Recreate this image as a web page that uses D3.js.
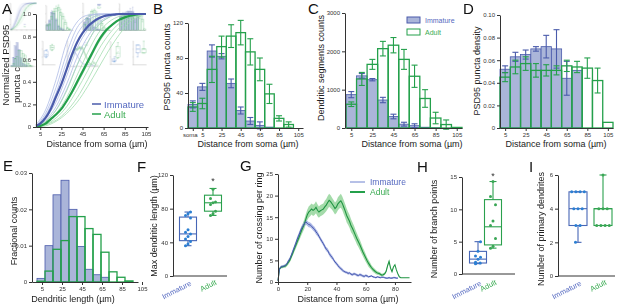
<!DOCTYPE html>
<html><head><meta charset="utf-8">
<script src="https://cdn.jsdelivr.net/npm/d3@7"></script>
<style>
body{margin:0;background:#fff;}
svg{display:block;font-family:"Liberation Sans",Arial,Helvetica,sans-serif;}
.ax .domain,.ax line{stroke:#333;stroke-width:1;}
.ax text{font-size:6px;fill:#333;font-family:"Liberation Sans",Arial,Helvetica,sans-serif;}
</style></head><body>
<svg id="fig" width="617" height="305"></svg>
<script>
// ---------------- DATA ----------------
const groups = ["Immature", "Adult"];
const distTicks = [5, 25, 45, 65, 85, 105];

// A: cumulative normalized PSD95 puncta
const aDist = [1,5,10,15,20,25,30,35,40,45,50,55,60,65,70,75,80,85,90,95,100,105];
const aImmMean = [0.01,0.03,0.08,0.16,0.27,0.38,0.51,0.64,0.75,0.83,0.89,0.93,0.96,0.98,0.99,0.995,1,1,1,1,1,1];
const aAdultMean = [0,0.01,0.03,0.07,0.11,0.16,0.23,0.31,0.40,0.49,0.58,0.67,0.76,0.83,0.88,0.92,0.95,0.97,0.985,0.995,1,1];
const aDistCells = [1,10,20,30,40,50,60,70,80,90,105];
const aImmCells = [
  [0.02,0.15,0.42,0.75,0.93,0.99,1,1,1,1,1],
  [0.01,0.12,0.35,0.65,0.88,0.97,1,1,1,1,1],
  [0.01,0.08,0.22,0.45,0.70,0.86,0.95,0.99,1,1,1],
  [0,0.06,0.18,0.38,0.62,0.80,0.92,0.98,1,1,1],
  [0.01,0.10,0.30,0.58,0.82,0.94,0.99,1,1,1,1],
  [0,0.05,0.15,0.33,0.55,0.75,0.90,0.97,1,1,1]
];
const aAdultCells = [
  [0,0.05,0.15,0.32,0.55,0.75,0.90,0.97,1,1,1],
  [0,0.03,0.12,0.26,0.46,0.66,0.83,0.93,0.98,1,1],
  [0,0.02,0.08,0.18,0.33,0.50,0.68,0.82,0.92,0.98,1],
  [0,0.02,0.06,0.14,0.26,0.42,0.60,0.76,0.88,0.96,1],
  [0,0.04,0.11,0.22,0.38,0.56,0.74,0.87,0.95,0.99,1],
  [0,0.01,0.05,0.12,0.22,0.36,0.52,0.68,0.82,0.93,1]
];
const aYTicks = [0,0.2,0.4,0.6,0.8,1.0];

// B: PSD95 puncta counts
const bBins = [-5,5,15,25,35,45,55,65,75,85,95];
const bTickVals = [-5,5,25,45,65,85,105];
const bTickLabels = ["soma","5","25","45","65","85","105"];
const bImm = [27,47,88,82,51,20,8,3,1,0,0];
const bImmErr = [4,4,7,3,5,4,4,4,0,0,0];
const bAdult = [24,28,67,93,105,109,87,67,39,11,4];
const bAdultErr = [5,6,15,12,13,14,15,13,11,3,3];
const bYTicks = [0,40,80,120];

// C: dendritic segment counts
const cBins = [5,15,25,35,45,55,65,75,85,95,105];
const cImm = [870,1360,1260,730,300,100,60,20,5,0,0];
const cImmErr = [80,60,30,70,60,50,50,0,0,0,0];
const cAdult = [620,1280,1660,2070,2160,1790,1350,770,260,90,15];
const cAdultErr = [60,170,130,190,200,260,290,230,150,120,0];
const cYTicks = [0,1000,2000,3000];

// D: PSD95 puncta density
const dBins = [5,15,25,35,45,55,65,75,85,95,105];
const dImm = [0.052,0.063,0.065,0.070,0.072,0.070,0.044,0.051,0,0,0];
const dImmErr = [0.003,0.004,0.004,0.002,0.010,0.017,0.015,0,0,0,0];
const dAdult = [0.045,0.054,0.057,0.051,0.051,0.051,0.055,0.054,0.053,0.042,0.005];
const dAdultErr = [0.004,0.006,0.006,0.006,0.005,0.004,0.005,0.005,0.009,0.011,0];
const dYTicks = [0,0.02,0.04,0.06,0.08,0.10];

// E: dendritic length distribution
const eEdges = [0,8,16,24,32,40,48,56,64,72,80,88,96];
const eImm = [0.001,0.010,0.024,0.028,0.020,0.0098,0.0035,0.002,0.0013,0,0,0];
const eAdult = [0.0002,0.003,0.009,0.0114,0.018,0.018,0.0147,0.0131,0.0082,0.0028,0.0013,0.0003];
const eYTicks = [0,0.01,0.02,0.03];

// F: max dendritic length  (box = min, q1, median, q3, max)
const fImm = [36,38,41,44,47,50,52,55,69,72,74,76];
const fAdult = [72,74,77,85,87,88,92,103];
const fImmBox = [36,42,50,70,76];
const fAdultBox = [72,77,87,96,104];
const fYTicks = [0,40,80,120];

// G: Sholl crossings per ring (1 µm steps from the soma)
const gStep = 1;
const gImm = [0.3,3.0,3.5,3.6,3.7,3.8,4.2,4.8,5.3,6.1,7.0,7.9,8.8,9.8,10.6,11.5,12.3,12.9,13.5,13.9,
  13.6,13.3,13.2,12.9,12.5,12.2,11.6,11.2,10.6,10.0,9.4,8.9,8.2,7.6,7.3,6.6,6.1,5.7,5.2,4.6,
  4.3,3.8,3.4,3.1,2.8,2.5,2.3,2.2,2.0,2.1,1.8,1.7,1.9,1.8,1.6,1.5,1.7,1.6,1.4,1.3,
  1.5,1.4,1.2,1.3,1.4,1.2,1.1,1.0,1.2,1.1,1.0,1.1,1.1,1.0,0.9,0.9,1.0,0.9,0.9,1.0,1.0,0.9,0.9];
const gImmErr = [0.1,0.3,0.3,0.3,0.3,0.3,0.3,0.4,0.4,0.4,0.5,0.5,0.5,0.6,0.6,0.6,0.6,0.6,0.6,0.6,
  0.6,0.6,0.6,0.6,0.6,0.6,0.6,0.6,0.5,0.5,0.5,0.5,0.5,0.5,0.5,0.5,0.5,0.5,0.4,0.4,
  0.4,0.4,0.4,0.4,0.4,0.3,0.3,0.3,0.3,0.3,0.3,0.3,0.3,0.3,0.3,0.3,0.3,0.3,0.3,0.3,
  0.3,0.3,0.2,0.2,0.2,0.2,0.2,0.2,0.2,0.2,0.2,0.2,0.2,0.2,0.2,0.2,0.2,0.2,0.2,0.2,0.2,0.2,0.2];
const gAdult = [0.3,3.0,3.4,3.5,3.6,3.7,4.0,4.5,5.0,5.8,6.6,7.5,8.3,9.2,10.0,10.9,11.8,12.6,13.4,14.5,
  15.5,16.2,16.5,16.9,16.6,16.8,17.3,16.6,16.2,16.5,16.7,16.9,17.4,17.8,18.4,18.9,18.6,18.1,17.6,17.0,
  17.4,18.1,18.5,18.8,18.2,17.3,16.4,15.4,14.7,14.0,13.0,12.4,11.6,10.8,10.0,9.3,8.6,7.8,7.0,6.3,
  5.6,4.9,4.3,3.8,3.3,2.9,2.6,2.3,2.1,2.0,1.8,1.6,1.7,1.9,2.5,3.8,4.8,3.2,2.4,3.5,
  4.0,2.8,1.9,1.2,1.0,1.0,1.0,1.0,1.0,1.0,1.0];
const gAdultErr = [0.2,0.3,0.3,0.3,0.3,0.4,0.4,0.5,0.5,0.6,0.6,0.7,0.7,0.8,0.8,0.9,1.0,1.0,1.1,1.2,
  1.2,1.3,1.3,1.3,1.3,1.3,1.4,1.4,1.3,1.3,1.3,1.3,1.4,1.4,1.5,1.5,1.5,1.4,1.4,1.4,
  1.4,1.5,1.5,1.6,1.6,1.6,1.6,1.6,1.5,1.5,1.5,1.4,1.4,1.3,1.3,1.2,1.2,1.1,1.0,1.0,
  0.9,0.8,0.8,0.7,0.6,0.6,0.5,0.5,0.4,0.4,0.4,0.3,0.3,0.3,0.3,0.3,0.3,0.2,0.2,0.2,
  0,0,0,0,0,0,0,0,0,0,0];
const gXTicks = [0,20,40,60,80];
const gYTicks = [0,5,10,15,20,25];

// H: branch points
const hImm = [1.6,1.7,1.7,1.8,2.3,2.6,2.8,3.5,5.0];
const hAdult = [4.0,4.3,5.5,7.5,8.2,10.7,12.0,14.3];
const hImmBox = [1.6,1.7,2.3,3.5,5.0];
const hAdultBox = [4.0,4.5,7.3,11.5,14.3];
const hYTicks = [0,5,10,15];

// I: primary dendrites
const iImm = [2,3,3,4,4,4,5,5,5,5];
const iAdult = [3,3,3,3,4,4,4,6];
const iImmBox = [2,3,4,5,5];
const iAdultBox = [3,3,4,4,6];
const iYTicks = [0,2,4,6];

// ---------------- STYLE ----------------
const COL = {
  blue:"#4a5bab", blueFill:"#aab5d9", blueText:"#5569c0", blueLight:"#aebbe6",
  green:"#24a04b", greenText:"#3aab52", greenLight:"#a3ddb0",
  bluePt:"#2b7fd2", greenPt:"#3aa655", boxBlue:"#4766b6", boxGreen:"#2aa04d",
  txt:"#222"
};
const fmtDec = n => d => d === 0 ? "0" : d3.format("." + n + "f")(d);

// ---------------- HELPERS ----------------
function yAx(g, s, ticks, fmt, x) {
  return g.append("g").attr("class","ax").attr("transform",`translate(${x},0)`)
    .call(d3.axisLeft(s).tickValues(ticks).tickFormat(fmt).tickSize(3).tickSizeOuter(0).tickPadding(2));
}
function xAx(g, s, ticks, fmt, y) {
  return g.append("g").attr("class","ax").attr("transform",`translate(0,${y})`)
    .call(d3.axisBottom(s).tickValues(ticks).tickFormat(fmt).tickSize(3).tickSizeOuter(0).tickPadding(1.5));
}
function yTitle(g, t, x, y) {
  g.append("text").attr("transform",`translate(${x},${y}) rotate(-90)`).attr("text-anchor","middle")
    .attr("font-size","9px").attr("fill",COL.txt).text(t);
}
function xTitle(g, t, x, y) {
  g.append("text").attr("x",x).attr("y",y).attr("text-anchor","middle")
    .attr("font-size","9px").attr("fill",COL.txt).text(t);
}
function letter(g, t, x, y) {
  g.append("text").attr("x",x).attr("y",y).attr("font-size","15px").attr("fill","#111").text(t);
}
function bars(g, x, y, lefts, rights, vals, fill, stroke, sw) {
  const d = vals.map((v,i)=>({l:lefts[i], r:rights[i], v})).filter(d=>d.v>0);
  g.append("g").selectAll("rect").data(d).join("rect")
    .attr("x", d=>x(d.l)).attr("width", d=>x(d.r)-x(d.l))
    .attr("y", d=>y(d.v)).attr("height", d=>y(0)-y(d.v))
    .attr("fill", fill).attr("stroke", stroke).attr("stroke-width", sw);
}
function errBars(g, x, y, centers, vals, errs, color, cap) {
  const d = centers.map((c,i)=>({c, v:vals[i], e:errs[i]})).filter(d=>d.e>0);
  const eg = g.append("g").attr("stroke",color).attr("stroke-width",1.1).attr("fill","none");
  eg.selectAll(null).data(d).join("line")
    .attr("x1",d=>x(d.c)).attr("x2",d=>x(d.c)).attr("y1",d=>y(d.v-d.e)).attr("y2",d=>y(d.v+d.e));
  eg.selectAll(null).data(d).join("line")
    .attr("x1",d=>x(d.c)-cap/2).attr("x2",d=>x(d.c)+cap/2).attr("y1",d=>y(d.v+d.e)).attr("y2",d=>y(d.v+d.e));
  eg.selectAll(null).data(d).join("line")
    .attr("x1",d=>x(d.c)-cap/2).attr("x2",d=>x(d.c)+cap/2).attr("y1",d=>y(d.v-d.e)).attr("y2",d=>y(d.v-d.e));
}
function histPanel(g, x, y, centers, binW, imm, immErr, adult, adultErr) {
  const L = centers.map(c=>c-binW/2), R = centers.map(c=>c+binW/2);
  bars(g, x, y, L, R, imm, COL.blueFill, COL.blue, 0.8);
  bars(g, x, y, L, R, adult, "none", COL.green, 1.3);
  errBars(g, x, y, centers, imm, immErr, COL.blue, 6);
  errBars(g, x, y, centers, adult, adultErr, COL.green, 6);
}
function jitter(vals) {
  const cnt = new Map(), seen = new Map();
  vals.forEach(v=>cnt.set(v,(cnt.get(v)||0)+1));
  return vals.map((v,i)=>{
    const k = cnt.get(v);
    if (k === 1) return ((i%3)-1)*2.5;
    const j = seen.get(v)||0; seen.set(v,j+1);
    return (j-(k-1)/2)*4.2;
  });
}
function boxPlot(g, cx, stats, pts, y, stroke, ptCol, w) {
  const [mn,q1,md,q3,mx] = stats;
  const bg = g.append("g").attr("stroke",stroke).attr("stroke-width",1.1).attr("fill","none");
  bg.append("rect").attr("x",cx-w/2).attr("width",w).attr("y",y(q3)).attr("height",y(q1)-y(q3));
  bg.append("line").attr("x1",cx-w/2).attr("x2",cx+w/2).attr("y1",y(md)).attr("y2",y(md));
  bg.append("line").attr("x1",cx).attr("x2",cx).attr("y1",y(q3)).attr("y2",y(mx));
  bg.append("line").attr("x1",cx).attr("x2",cx).attr("y1",y(q1)).attr("y2",y(mn));
  bg.append("line").attr("x1",cx-3.5).attr("x2",cx+3.5).attr("y1",y(mx)).attr("y2",y(mx));
  bg.append("line").attr("x1",cx-3.5).attr("x2",cx+3.5).attr("y1",y(mn)).attr("y2",y(mn));
  const jx = jitter(pts);
  g.append("g").selectAll("circle").data(pts).join("circle")
    .attr("cx",(d,i)=>cx+jx[i]).attr("cy",d=>y(d)).attr("r",1.5).attr("fill",ptCol);
}
function catLabels(g, xs) {
  g.append("text").attr("transform",`translate(${xs("Immature")+4},285) rotate(-27)`)
    .attr("text-anchor","end").attr("font-size","7.5px").attr("fill",COL.blueText).text("Immature");
  g.append("text").attr("transform",`translate(${xs("Adult")+4},284) rotate(-27)`)
    .attr("text-anchor","end").attr("font-size","7.5px").attr("fill",COL.greenText).text("Adult");
}
function hLine(g, x1, x2, y) {
  g.append("line").attr("x1",x1).attr("x2",x2).attr("y1",y).attr("y2",y).attr("stroke","#333").attr("stroke-width",1);
}

// ---------------- PANELS ----------------
function panelA(g) {
  const x = d3.scaleLinear().domain([1,107]).range([36,148]);
  const y = d3.scaleLinear().domain([0,1]).range([127,14]);
  const mk = xs => d3.line().x((d,i)=>x(xs[i])).y(d=>y(d)).curve(d3.curveMonotoneX);
  const thin = g.append("g").attr("fill","none").attr("stroke-width",0.8);
  thin.selectAll(null).data(aImmCells).join("path").attr("d", mk(aDistCells)).attr("stroke",COL.blueLight);
  thin.selectAll(null).data(aAdultCells).join("path").attr("d", mk(aDistCells)).attr("stroke",COL.greenLight);
  g.append("path").attr("d", mk(aDist)(aAdultMean)).attr("fill","none").attr("stroke",COL.green).attr("stroke-width",2.2);
  g.append("path").attr("d", mk(aDist)(aImmMean)).attr("fill","none").attr("stroke",COL.blue).attr("stroke-width",2.2);
  yAx(g, y, aYTicks, fmtDec(1), 36);
  xAx(g, x, distTicks, d3.format("d"), 127);
  xTitle(g, "Distance from soma (µm)", 97, 147);
  g.append("text").attr("transform","translate(9,65) rotate(-90)").attr("text-anchor","middle")
    .attr("font-size","9.5px").attr("fill",COL.txt).text("Normalized PSD95");
  g.append("text").attr("transform","translate(20,103) rotate(-90)").attr("text-anchor","start")
    .attr("font-size","9.5px").attr("fill",COL.txt).text("puncta c");
  // legend
  const lg = [{n:"Immature", c:COL.blue, t:COL.blueText, y:104},{n:"Adult", c:COL.green, t:COL.greenText, y:114}];
  g.selectAll(null).data(lg).join("line").attr("x1",92).attr("x2",101).attr("y1",d=>d.y).attr("y2",d=>d.y)
    .attr("stroke",d=>d.c).attr("stroke-width",1.5);
  g.selectAll(null).data(lg).join("text").attr("x",104).attr("y",d=>d.y+3.5).attr("font-size","9.5px")
    .attr("fill",d=>d.t).text(d=>d.n);
  letter(g, "A", 2, 13.5);
}
function panelB(g) {
  const x = d3.scaleLinear().domain([-10,110]).range([188,303]);
  const y = d3.scaleLinear().domain([0,120]).range([128,23]);
  histPanel(g, x, y, bBins, 10, bImm, bImmErr, bAdult, bAdultErr);
  yAx(g, y, bYTicks, d3.format("d"), 188);
  const ax = xAx(g, x, bTickVals, (d,i)=>bTickLabels[i], 128);
  ax.selectAll(".tick text").filter((d,i)=>i===0).attr("dx",-3);
  xTitle(g, "Distance from soma (µm)", 248, 147);
  yTitle(g, "PSD95 puncta counts", 170, 67);
  letter(g, "B", 153, 13.5);
}
function panelC(g) {
  const x = d3.scaleLinear().domain([0,110]).range([346,462]);
  const y = d3.scaleLinear().domain([0,3000]).range([128,13]);
  histPanel(g, x, y, cBins, 10, cImm, cImmErr, cAdult, cAdultErr);
  yAx(g, y, cYTicks, d3.format("d"), 345);
  xAx(g, x, distTicks, d3.format("d"), 128);
  xTitle(g, "Distance from soma (µm)", 412, 147);
  yTitle(g, "Dendritic segments counts", 324, 68);
  const lg = [{n:"Immature", f:COL.blueFill, s:COL.blue, t:COL.blueText, y:17},{n:"Adult", f:"#fff", s:COL.green, t:COL.greenText, y:29}];
  g.selectAll(null).data(lg).join("rect").attr("x",407).attr("y",d=>d.y).attr("width",13).attr("height",6)
    .attr("fill",d=>d.f).attr("stroke",d=>d.s).attr("stroke-width",1);
  g.selectAll(null).data(lg).join("text").attr("x",425).attr("y",d=>d.y+5.5).attr("font-size","7px")
    .attr("fill",d=>d.t).text(d=>d.n);
  letter(g, "C", 308, 13.5);
}
function panelD(g) {
  const x = d3.scaleLinear().domain([0,110]).range([500,613]);
  const y = d3.scaleLinear().domain([0,0.1]).range([128,15]);
  histPanel(g, x, y, dBins, 10, dImm, dImmErr, dAdult, dAdultErr);
  yAx(g, y, dYTicks, fmtDec(2), 500);
  xAx(g, x, distTicks, d3.format("d"), 128);
  xTitle(g, "Distance from soma (µm)", 556, 147);
  yTitle(g, "PSD95 puncta density", 480, 71);
  letter(g, "D", 463, 13.5);
}
function panelE(g) {
  const x = d3.scaleLinear().domain([-5,101]).range([32,138]);
  const y = d3.scaleLinear().domain([0,0.03]).range([282,173]);
  const L = eEdges.slice(0,-1), R = eEdges.slice(1);
  bars(g, x, y, L, R, eImm, COL.blueFill, COL.blue, 0.8);
  bars(g, x, y, L, R, eAdult, "none", COL.green, 1.3);
  yAx(g, y, eYTicks, fmtDec(2), 32);
  xAx(g, x, distTicks, d3.format("d"), 282);
  xTitle(g, "Dendritic length (µm)", 73, 302);
  yTitle(g, "Fractional counts", 17, 231);
  letter(g, "E", 3, 171);
}
function panelBox(g, o) {
  const y = d3.scaleLinear().domain(o.dom).range([o.y0, o.y1]);
  const xs = d3.scalePoint().domain(groups).range(o.cx);
  boxPlot(g, xs("Immature"), o.immBox, o.imm, y, COL.boxBlue, COL.bluePt, o.w);
  boxPlot(g, xs("Adult"), o.adBox, o.ad, y, COL.boxGreen, COL.greenPt, o.w);
  yAx(g, y, o.ticks, d3.format("d"), o.ax);
  hLine(g, o.ax, o.axEnd, o.y0);
  catLabels(g, xs);
  yTitle(g, o.title, o.tx, o.ty);
  if (o.star) g.append("text").attr("x",xs("Adult")).attr("y",o.star).attr("text-anchor","middle")
    .attr("font-size","9px").attr("fill","#333").text("*");
  letter(g, o.letter, o.lx, 171.5);
}
function panelG(g) {
  const x = d3.scaleLinear().domain([0,91]).range([278,411]);
  const y = d3.scaleLinear().domain([0,25]).range([282,174]);
  const mk = (vals, errs) => vals.map((v,i)=>({d:i*gStep, v, e:errs[i]}));
  const im = mk(gImm, gImmErr), ad = mk(gAdult, gAdultErr);
  const area = d3.area().x(d=>x(d.d)).y0(d=>y(Math.max(0,d.v-d.e))).y1(d=>y(d.v+d.e));
  const line = d3.line().x(d=>x(d.d)).y(d=>y(d.v));
  g.append("path").attr("d", area(ad.filter(d=>d.e>0))).attr("fill","#86cf8e").attr("opacity",0.75);
  g.append("path").attr("d", area(im)).attr("fill","#8d9cdb").attr("opacity",0.7);
  g.append("path").attr("d", line(ad)).attr("fill","none").attr("stroke","#1f9442").attr("stroke-width",1.1);
  g.append("path").attr("d", line(im)).attr("fill","none").attr("stroke","#4556ad").attr("stroke-width",1);
  yAx(g, y, gYTicks, d3.format("d"), 278);
  xAx(g, x, gXTicks, d3.format("d"), 282);
  xTitle(g, "Distance from soma (µm)", 348, 302);
  yTitle(g, "Number of crossing per ring", 262, 228);
  const lg = [{n:"Immature", c:"#6f82cf", t:COL.blueText, y:182, w:1},{n:"Adult", c:COL.green, t:COL.greenText, y:192, w:2}];
  g.selectAll(null).data(lg).join("line").attr("x1",350).attr("x2",365).attr("y1",d=>d.y).attr("y2",d=>d.y)
    .attr("stroke",d=>d.c).attr("stroke-width",d=>d.w);
  g.selectAll(null).data(lg).join("text").attr("x",370).attr("y",d=>d.y+3).attr("font-size","8.5px")
    .attr("fill",d=>d.t).text(d=>d.n);
  letter(g, "G", 240, 171);
}

function drawFigure(root) {
  panelB(root.append("g"));
  panelC(root.append("g"));
  panelD(root.append("g"));
  panelE(root.append("g"));
  panelBox(root.append("g"), {dom:[0,120], y0:276, y1:175, cx:[188,213], immBox:fImmBox, imm:fImm, adBox:fAdultBox, ad:fAdult,
    w:17, ticks:fYTicks, ax:173, axEnd:227, title:"Max dendritic length (µm)", tx:157, ty:226, star:184, letter:"F", lx:137});
  panelG(root.append("g"));
  panelBox(root.append("g"), {dom:[0,15], y0:274, y1:177, cx:[478,493], immBox:hImmBox, imm:hImm, adBox:hAdultBox, ad:hAdult,
    w:17, ticks:hYTicks, ax:462, axEnd:515, title:"Number of branch points", tx:437, ty:229, star:179, letter:"H", lx:417});
  panelBox(root.append("g"), {dom:[0,6], y0:276, y1:175, cx:[578,603], immBox:iImmBox, imm:iImm, adBox:iAdultBox, ad:iAdult,
    w:18, ticks:iYTicks, ax:558, axEnd:615, title:"Number of primary dendrites", tx:544, ty:229, star:null, letter:"I", lx:529});
  panelA(root.append("g"));
}

const svg = d3.select("#fig");
// faint miniature copy of the figure sitting inside panel A (as in the reference)
const mini = svg.append("g").attr("transform","translate(2,0) scale(0.235)").attr("opacity",0.75);
drawFigure(mini);
mini.selectAll("text").remove();
drawFigure(svg.append("g"));
</script>
</body></html>
